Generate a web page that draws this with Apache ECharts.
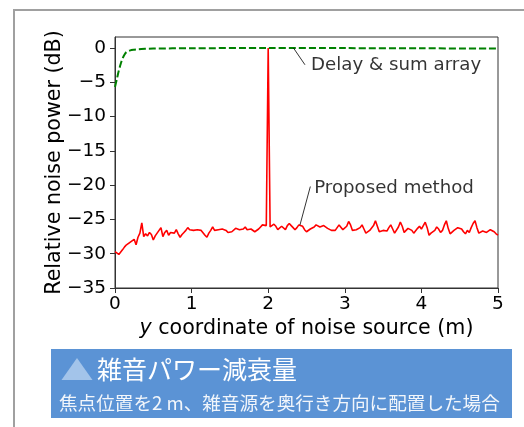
<!DOCTYPE html>
<html>
<head>
<meta charset="utf-8">
<script src="https://cdn.jsdelivr.net/npm/echarts@6/dist/echarts.min.js"></script>
<style>
html,body{margin:0;padding:0;background:#fff;}
#chart{width:524px;height:427px;}
</style>
</head>
<body>
<div id="chart"></div>
<script>
// ---- data ----
const xStep = 0.025; // spacing of the Proposed-method samples in metres
const proposedValues = [
  -29.7,-29.9,-30.1,-30.0,-29.4,-29.0,-28.7,-28.5,-28.3,-28.2,
  -27.9,-28.7,-27.6,-27.0,-25.5,-27.5,-27.1,-27.4,-26.9,-27.2,
  -28.0,-27.4,-27.0,-26.6,-26.2,-27.5,-26.9,-26.6,-27.3,-26.9,
  -27.1,-27.0,-26.5,-27.1,-27.6,-27.2,-26.9,-26.6,-26.2,-26.5,
  -26.6,-26.6,-26.8,-26.5,-26.7,-26.6,-26.8,-27.3,-27.6,-27.0,
  -26.6,-26.1,-26.6,-26.4,-26.5,-26.7,-26.4,-26.3,-26.6,-26.9,
  -27.1,-26.8,-26.6,-26.3,-26.2,-26.5,-26.3,-26.4,-26.1,-26.5,
  -26.3,-26.4,-26.6,-26.8,-26.7,-26.4,-26.1,-25.8,-25.8,-25.9,
  0.0,
  -26.1,-25.9,-25.7,-26.0,-26.5,-26.3,-26.0,-26.2,-26.5,
  -25.9,-25.6,-25.9,-26.2,-26.5,-26.2,-25.8,-25.6,-26.0,-26.5,
  -26.8,-26.6,-26.4,-26.3,-26.1,-25.8,-26.0,-26.1,-26.0,-25.9,
  -25.8,-26.3,-26.5,-26.6,-26.5,-26.6,-26.4,-25.8,-26.0,-26.5,
  -26.4,-26.0,-25.3,-25.8,-26.6,-26.8,-26.5,-26.6,-26.2,-25.8,
  -26.4,-27.0,-26.8,-26.6,-26.8,-25.9,-25.2,-26.0,-26.8,-26.9,
  -26.6,-26.5,-26.7,-26.2,-25.8,-26.4,-27.0,-26.8,-26.1,-25.4,
  -26.0,-26.9,-26.6,-26.3,-26.1,-26.6,-27.0,-26.8,-26.3,-26.0,
  -26.4,-25.9,-25.4,-26.2,-27.3,-27.0,-26.8,-26.6,-26.1,-26.4,
  -26.9,-26.6,-25.8,-25.2,-26.3,-27.1,-26.9,-26.6,-26.7,-26.2,
  -26.0,-26.4,-26.8,-27.1,-26.6,-26.9,-26.2,-25.6,-25.2,-26.2,
  -27.0,-26.9,-26.7,-26.8,-26.9,-26.7,-26.5,-26.4,-26.8,-27.1,
  -27.3
];
const delaySumX = [0, 0.025, 0.05, 0.075, 0.1, 0.125, 0.15, 0.2, 0.25, 0.3, 0.4, 0.5, 1, 2, 3, 4, 5];
const delaySumY = [-5.7, -4.5, -3.3, -2.3, -1.5, -0.95, -0.6, -0.35, -0.25, -0.18, -0.12, -0.08, -0.04, 0, -0.02, -0.05, -0.08];

const xTicks = [0, 1, 2, 3, 4, 5];
const yTicks = [-35, -30, -25, -20, -15, -10, -5, 0];

const xName = 'y coordinate of noise source (m)';
const yName = 'Relative noise power (dB)';
const delayLabel = 'Delay & sum array';
const proposedLabel = 'Proposed method';
const delayArrow = [[2.33, 0], [2.48, -2.45]];
const proposedArrow = [[2.55, -20.2], [2.415, -25.8]];
const delayTextAt = [2.56, -2.5];
const proposedTextAt = [2.6, -20.45];
const panelTitle = '雑音パワー減衰量';
const panelSub = '焦点位置を2 m、雑音源を奥行き方向に配置した場合';

// ---- chart ----
const proposedData = proposedValues.map((v, i) => [+(i * xStep).toFixed(3), v]);
const delayData = delaySumX.map((x, i) => [x, delaySumY[i]]);
const minus = v => String(v).replace('-', '\u2212');

const FONT = 'DejaVu Sans';
const CJK = '"Noto Sans CJK JP"';
const chart = echarts.init(document.getElementById('chart'), null, {renderer: 'canvas'});
chart.setOption({
  animation: false,
  backgroundColor: '#fff',
  textStyle: {fontFamily: FONT},
  grid: {left: 115, right: 26, top: 37, bottom: 139, show: true, borderColor: '#333', borderWidth: 1, backgroundColor: 'transparent'},
  xAxis: {
    type: 'value', min: 0, max: 5, interval: 1,
    name: '{i|y}' + xName.slice(1), nameLocation: 'middle', nameGap: 30, nameMoveOverlap: false,
    nameTextStyle: {fontFamily: FONT, fontSize: 20.6, color: '#000',
      rich: {i: {fontFamily: FONT, fontSize: 20.6, fontStyle: 'italic', color: '#000'}}},
    splitLine: {show: false},
    axisLine: {show: true, onZero: false, lineStyle: {color: '#333', width: 1}},
    axisTick: {show: true, inside: false, length: 5, lineStyle: {color: '#333'}, customValues: xTicks},
    axisLabel: {fontFamily: FONT, fontSize: 18.5, color: '#000', margin: 7, customValues: xTicks, formatter: v => minus(v)}
  },
  yAxis: {
    type: 'value', min: -35, max: 1.6,
    name: yName, nameLocation: 'middle', nameGap: 50, nameRotate: 90, nameMoveOverlap: false,
    nameTextStyle: {fontFamily: FONT, fontSize: 20.6, color: '#000'},
    splitLine: {show: false},
    axisLine: {show: true, onZero: false, lineStyle: {color: '#333', width: 1}},
    axisTick: {show: true, inside: false, length: 5, lineStyle: {color: '#333'}, customValues: yTicks},
    axisLabel: {fontFamily: FONT, fontSize: 18.5, color: '#000', margin: 9, customValues: yTicks, formatter: v => minus(v)}
  },
  series: [
    {
      type: 'line', data: delayData, showSymbol: false, smooth: 0.3, z: 3,
      lineStyle: {color: '#008000', width: 2, type: [7, 3]}
    },
    {
      type: 'line', data: proposedData, showSymbol: false, z: 4,
      lineStyle: {color: '#ff0000', width: 1.6}
    },
    {
      type: 'line', data: delayArrow, showSymbol: false, z: 5,
      lineStyle: {color: '#000', width: 0.8}
    },
    {
      type: 'line', data: proposedArrow, showSymbol: false, z: 5,
      lineStyle: {color: '#000', width: 0.8}
    },
    {
      type: 'scatter', symbolSize: 0, z: 6,
      data: [
        {value: delayTextAt, label: {formatter: delayLabel}},
        {value: proposedTextAt, label: {formatter: proposedLabel}}
      ],
      label: {show: true, position: 'inside', align: 'left', verticalAlign: 'middle',
        fontFamily: FONT, fontSize: 18.2, color: '#000'}
    }
  ],
  graphic: [
    {type: 'polyline', shape: {points: [[14, 427], [14, 10], [524, 10]]}, style: {stroke: '#a0a0a0', lineWidth: 2, fill: null}, silent: true},
    {type: 'rect', shape: {x: 51, y: 349, width: 461, height: 69}, style: {fill: '#5b93d5'}, silent: true},
    {type: 'polygon', shape: {points: [[61.5, 380], [92.5, 380], [77, 358]]}, style: {fill: '#a3c4ea'}, silent: true},
    {type: 'text', x: 97, y: 369, style: {text: panelTitle, fontFamily: CJK, fontSize: 25, fill: '#fff', verticalAlign: 'middle', align: 'left'}, silent: true},
    {type: 'text', x: 59, y: 403, style: {text: panelSub, fontFamily: CJK, fontSize: 18.6, fill: '#f2f6fb', verticalAlign: 'middle', align: 'left'}, silent: true}
  ]
});
</script>
</body>
</html>
